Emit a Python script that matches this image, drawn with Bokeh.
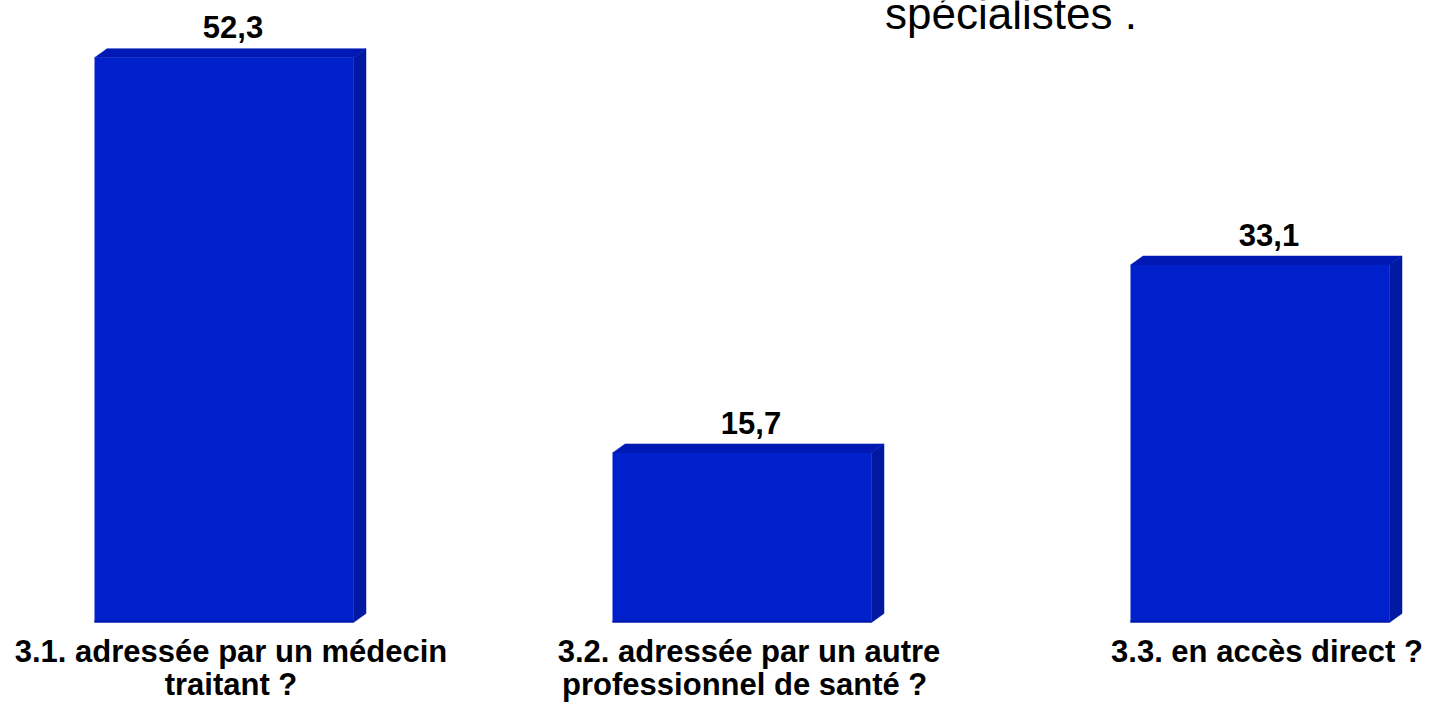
from bokeh.plotting import figure
from bokeh.models import Range1d, ColumnDataSource
from bokeh.embed import file_html
from bokeh.resources import INLINE
from bokeh.core.properties import value

# ---- data ----
categories = [
    "3.1. adressée par un médecin\ntraitant ?",
    "3.2. adressée par un autre\nprofessionnel de santé  ?",
    "3.3. en accès direct ?",
]
values = [52.3, 15.7, 33.1]
value_labels = ["52,3", "15,7", "33,1"]
title_text = "spécialistes ."

# ---- layout (pixel geometry) ----
W, H = 1429, 707
PX_X = 518.0      # pixels per category step
PX_Y = 10.8       # pixels per value unit
BASE = 622.0      # screen y of bar base
x0 = -223.5 / PX_X
y0 = -(H - BASE) / PX_Y
x1 = x0 + W / PX_X
y1 = y0 + H / PX_Y

BAR_W = 0.5
DX = 12.5 / PX_X   # 3D depth in x
DY = 9.0 / PX_Y    # 3D depth in y

FRONT = "#0020CC"
SIDE = "#0018A2"
TOP = "#0019B4"

xs = list(range(len(values)))

p = figure(width=W, height=H, x_range=Range1d(x0, x1), y_range=Range1d(y0, y1),
           output_backend="svg", toolbar_location=None, min_border=0)
p.axis.visible = False
p.grid.visible = False
p.outline_line_color = None
p.background_fill_color = "white"
p.border_fill_color = "white"

side_xs, side_ys, top_xs, top_ys = [], [], [], []
for x, v in zip(xs, values):
    r = x + BAR_W / 2
    l = x - BAR_W / 2
    side_xs.append([r, r + DX, r + DX, r])
    side_ys.append([0, DY, v + DY, v])
    top_xs.append([l, l + DX, r + DX, r])
    top_ys.append([v, v + DY, v + DY, v])

p.patches(side_xs, side_ys, fill_color=SIDE, line_color=SIDE, line_width=0.5)
p.patches(top_xs, top_ys, fill_color=TOP, line_color=TOP, line_width=0.5)

src = ColumnDataSource(dict(x=xs, top=values))
p.vbar(x="x", top="top", bottom=0, width=BAR_W, source=src,
       fill_color=FRONT, line_color=None)
p.segment(x0=[x - BAR_W / 2 for x in xs], x1=[x + BAR_W / 2 for x in xs],
          y0=[1.0 / PX_Y] * 3, y1=[1.0 / PX_Y] * 3, line_color="#0018A8", line_width=2)

FONT = value("Liberation Sans")
BL = 0.40  # empirical baseline correction (fraction of font size)


def ypix(screen_y):
    """data y for a given screen y (baseline)"""
    return (BASE - screen_y) / PX_Y


VAL_FS = 31
p.text(x=[x + 9 / PX_X for x in xs],
       y=[v + (18 + BL * VAL_FS) / PX_Y for v in values],
       text=value_labels, text_font=FONT, text_font_style="bold",
       text_font_size=f"{VAL_FS}px", text_align="center", text_baseline="alphabetic",
       text_color="black")

CAT_FS = 31
line_base = [663, 696]
for li in range(2):
    lx, ly, lt = [], [], []
    for x, c in zip(xs, categories):
        parts = c.split("\n")
        if li < len(parts):
            lx.append(x + 7 / PX_X)
            ly.append(ypix(line_base[li] - BL * CAT_FS))
            lt.append(parts[li])
    p.text(x=lx, y=ly, text=lt, text_font=FONT, text_font_style="bold",
           text_font_size=f"{CAT_FS}px", text_align="center", text_baseline="alphabetic",
           text_color="black")

TITLE_FS = 44
p.text(x=[x0 + 1010.5 / PX_X], y=[ypix(31 - BL * TITLE_FS)], text=[title_text],
       text_font=FONT, text_font_size=f"{TITLE_FS}px", text_align="center",
       text_baseline="alphabetic", text_color="black")

open("out.html", "w").write(file_html(p, INLINE))
